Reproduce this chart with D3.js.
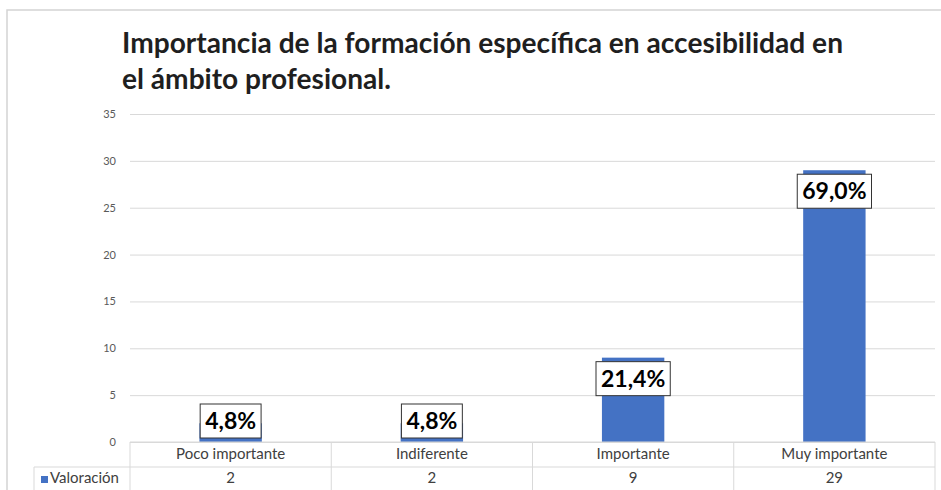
<!DOCTYPE html>
<html>
<head>
<meta charset="utf-8">
<script src="https://cdn.jsdelivr.net/npm/d3@7"></script>
<style>
  body { margin: 0; background: #fff; }
</style>
</head>
<body>
<div id="wrapper"></div>
<script>
width = 941
height = 490

// data
var categories = ["Poco importante", "Indiferente", "Importante", "Muy importante"]
var values = [2, 2, 9, 29]
var percentLabels = ["4,8%", "4,8%", "21,4%", "69,0%"]
var yTicks = [0, 5, 10, 15, 20, 25, 30, 35]
var seriesName = "Valoración"
var titleLines = ["Importancia de la formación específica en accesibilidad en", "el ámbito profesional."]

marginTop = 114
marginLeft = 130
plotRight = 935
plotBottom = 442

var font = "Lato, 'Liberation Sans', Arial, sans-serif"

const svg = d3.select("#wrapper").append("svg")
    .attr("width", width)
    .attr("height", height)
    .style("font-family", font)

// outer frame
svg.append("path")
    .attr("d", `M7,${height} V10 H${width}`)
    .attr("fill", "none")
    .attr("stroke", "#d4d4d4")
    .attr("stroke-width", 1.5)

// title
var titleWidths = [721, 269]
svg.append("g").selectAll("text")
    .data(titleLines)
    .join("text")
    .attr("x", 122)
    .attr("y", (d, i) => 53 + i * 36)
    .attr("font-size", 28)
    .attr("font-weight", "bold")
    .attr("fill", "#1f1f1f")
    .attr("textLength", (d, i) => titleWidths[i])
    .attr("lengthAdjust", "spacingAndGlyphs")
    .text(d => d)

var x = d3.scaleBand()
    .domain(categories)
    .range([marginLeft, plotRight])
    .padding(0)

var y = d3.scaleLinear()
    .domain([0, 35])
    .range([plotBottom, marginTop])

// gridlines + tick labels
var yAxis = g => g
    .attr("transform", `translate(${marginLeft},0)`)
    .call(d3.axisLeft(y).tickValues(yTicks).tickSize(-(plotRight - marginLeft)).tickPadding(14))
    .call(g => g.select(".domain").remove())
    .call(g => g.selectAll(".tick line").attr("stroke", "#d9d9d9"))
    .call(g => g.selectAll(".tick text")
        .attr("fill", "#595959")
        .attr("font-size", 11)
        .attr("font-family", font))

svg.append("g").call(yAxis)

// bars
var barW = x.bandwidth() * 0.31
svg.append("g")
    .selectAll("rect")
    .data(values)
    .join("rect")
    .attr("x", (d, i) => x(categories[i]) + x.bandwidth() / 2 - barW / 2)
    .attr("y", d => y(d))
    .attr("width", barW)
    .attr("height", d => y(0) - y(d))
    .attr("fill", "#4472c4")

// data table
var table = svg.append("g")
    .attr("stroke", "#d9d9d9")
    .attr("stroke-width", 1)
table.append("line").attr("x1", marginLeft).attr("x2", plotRight).attr("y1", plotBottom).attr("y2", plotBottom)
table.append("line").attr("x1", 34).attr("x2", plotRight).attr("y1", 467).attr("y2", 467)
table.append("line").attr("x1", 34).attr("x2", 34).attr("y1", 467).attr("y2", height)
table.selectAll(".vline")
    .data(categories.concat(["end"]))
    .join("line")
    .attr("class", "vline")
    .attr("x1", (d, i) => i < categories.length ? x(d) : plotRight)
    .attr("x2", (d, i) => i < categories.length ? x(d) : plotRight)
    .attr("y1", plotBottom)
    .attr("y2", height)

svg.append("g").selectAll("text")
    .data(categories)
    .join("text")
    .attr("x", d => x(d) + x.bandwidth() / 2)
    .attr("y", 459)
    .attr("text-anchor", "middle")
    .attr("font-size", 15)
    .attr("fill", "#404040")
    .text(d => d)

svg.append("g").selectAll("text")
    .data(values)
    .join("text")
    .attr("x", (d, i) => x(categories[i]) + x.bandwidth() / 2)
    .attr("y", 483)
    .attr("text-anchor", "middle")
    .attr("font-size", 15)
    .attr("fill", "#404040")
    .text(d => d)

// legend key in table
svg.append("rect")
    .attr("x", 41)
    .attr("y", 476)
    .attr("width", 7)
    .attr("height", 7)
    .attr("fill", "#4472c4")
svg.append("text")
    .attr("x", 50)
    .attr("y", 483)
    .attr("font-size", 15)
    .attr("fill", "#404040")
    .text(seriesName)

// data labels (boxed)
var labels = svg.append("g")
    .selectAll("g")
    .data(values)
    .join("g")
    .attr("transform", (d, i) => {
        var cx = x(categories[i]) + x.bandwidth() / 2
        var top = Math.min(y(d) + 4, y(0) - 38)
        return `translate(${cx},${top})`
    })

labels.append("text")
    .attr("y", 25)
    .attr("text-anchor", "middle")
    .attr("font-size", 23)
    .attr("font-weight", "bold")
    .attr("fill", "#000")
    .text((d, i) => percentLabels[i])

labels.each(function () {
    var g = d3.select(this)
    var w = g.select("text").node().getComputedTextLength() + 10
    g.insert("rect", "text")
        .attr("x", -w / 2)
        .attr("y", 0)
        .attr("width", w)
        .attr("height", 34)
        .attr("fill", "#fff")
        .attr("stroke", "#333")
        .attr("stroke-width", 1)
})
</script>
</body>
</html>
